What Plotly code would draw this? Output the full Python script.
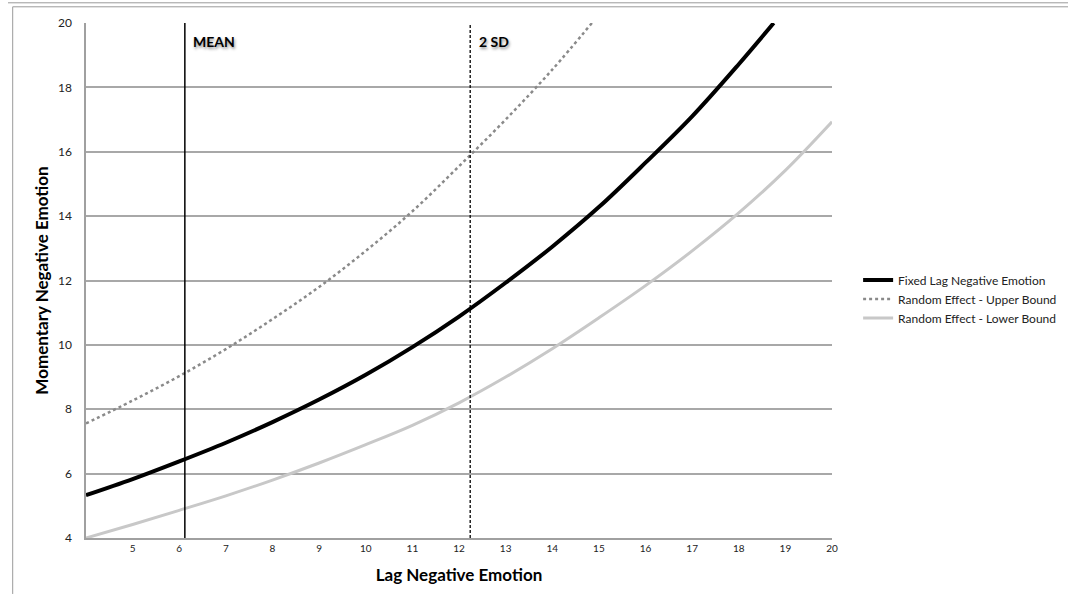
import plotly.graph_objects as go

# --- data ---
fixed_x = [4, 5, 6, 7, 8, 9, 10, 11, 12, 13, 14, 15, 16, 17, 18, 18.75]
fixed_y = [5.33, 5.83, 6.38, 6.96, 7.6, 8.3, 9.07, 9.93, 10.88, 11.93, 13.05, 14.28, 15.66, 17.1, 18.72, 20.0]

upper_x = [4, 5, 6, 7, 8, 9, 10, 11, 12, 13, 14, 14.85]
upper_y = [7.56, 8.27, 9.03, 9.87, 10.8, 11.8, 12.92, 14.15, 15.55, 17.0, 18.55, 20.0]

lower_x = [4, 5, 6, 7, 8, 9, 10, 11, 12, 13, 14, 15, 16, 17, 18, 19, 20]
lower_y = [4.0, 4.42, 4.86, 5.31, 5.8, 6.33, 6.9, 7.5, 8.2, 9.0, 9.88, 10.84, 11.84, 12.92, 14.1, 15.42, 16.93]

mean_x = 6.12
sd2_x = 12.24

x_ticks = list(range(5, 21))
y_ticks = list(range(4, 21, 2))

FONT = "Lato"

fig = go.Figure()
fig.add_trace(go.Scatter(x=fixed_x, y=fixed_y, mode="lines", name="Fixed Lag Negative Emotion",
                         line=dict(color="#000000", width=4, shape="spline")))
fig.add_trace(go.Scatter(x=upper_x, y=upper_y, mode="lines", name="Random Effect - Upper Bound",
                         line=dict(color="#8a8a8a", width=2.5, dash="dot", shape="spline")))
fig.add_trace(go.Scatter(x=lower_x, y=lower_y, mode="lines", name="Random Effect - Lower Bound",
                         line=dict(color="#c8c8c8", width=3, shape="spline")))

# reference lines
fig.add_shape(type="line", x0=mean_x, x1=mean_x, y0=4, y1=20, xref="x", yref="y",
              line=dict(color="#000000", width=1.5))
fig.add_shape(type="line", x0=sd2_x, x1=sd2_x, y0=4, y1=20, xref="x", yref="y",
              line=dict(color="#000000", width=1.3, dash="3px,2px"))

shadow = "1px 2px 3px rgba(0,0,0,0.45)"
fig.add_annotation(x=mean_x, y=20, xref="x", yref="y", text="<b>MEAN</b>", showarrow=False,
                   xanchor="left", yanchor="top", xshift=6, yshift=-8,
                   font=dict(family=FONT, size=14, color="#000000", shadow=shadow))
fig.add_annotation(x=sd2_x, y=20, xref="x", yref="y", text="<b>2 SD</b>", showarrow=False,
                   xanchor="left", yanchor="top", xshift=7, yshift=-8,
                   font=dict(family=FONT, size=14, color="#000000", shadow=shadow))

# outer frame decoration (paper coords; plot area is px 86..832 x, 538..22.7 y)
def px(xp):
    return (xp - 86) / 746.0

def py(yp):
    return (538 - yp) / 515.3

frame = dict(color="#9a9a9a", width=1)
fig.add_shape(type="line", xref="paper", yref="paper", x0=px(8), x1=px(1068), y0=py(2.5), y1=py(2.5), line=frame)
fig.add_shape(type="line", xref="paper", yref="paper", x0=px(12.7), x1=px(1068), y0=py(6.5), y1=py(6.5), line=frame)
fig.add_shape(type="line", xref="paper", yref="paper", x0=px(12.7), x1=px(12.7), y0=py(6.5), y1=py(594), line=frame)

fig.update_layout(
    width=1068, height=594,
    margin=dict(l=86, r=236, t=23, b=56, autoexpand=False),
    paper_bgcolor="white", plot_bgcolor="white",
    font=dict(family=FONT, color="#222222"),
    showlegend=True,
    legend=dict(x=1.035, y=0.464, xanchor="left", yanchor="middle",
                font=dict(family=FONT, size=12, color="#222222"),
                tracegroupgap=0, itemwidth=30, bgcolor="rgba(0,0,0,0)"),
    xaxis=dict(range=[4, 20], tickvals=x_ticks, ticktext=[str(v) for v in x_ticks],
               showgrid=False, zeroline=False, showline=True, linecolor="#a0a0a0", linewidth=1.5,
               ticks="", tickfont=dict(family=FONT, size=10, color="#222222"),
               title=dict(text="<b>Lag Negative Emotion</b>", font=dict(family=FONT, size=17, color="#000000"),
                          standoff=16)),
    yaxis=dict(range=[4, 20], tickvals=y_ticks, ticktext=[str(v) for v in y_ticks],
               showgrid=True, gridcolor="#a8a8a8", gridwidth=1.5, zeroline=False,
               showline=True, linecolor="#a0a0a0", linewidth=1.5,
               ticks="", ticklabelstandoff=10, tickfont=dict(family=FONT, size=12, color="#222222"),
               title=dict(text="<b>Momentary Negative Emotion</b>", font=dict(family=FONT, size=17, color="#000000"),
                          standoff=5)),
)

fig.write_html("out.html")
